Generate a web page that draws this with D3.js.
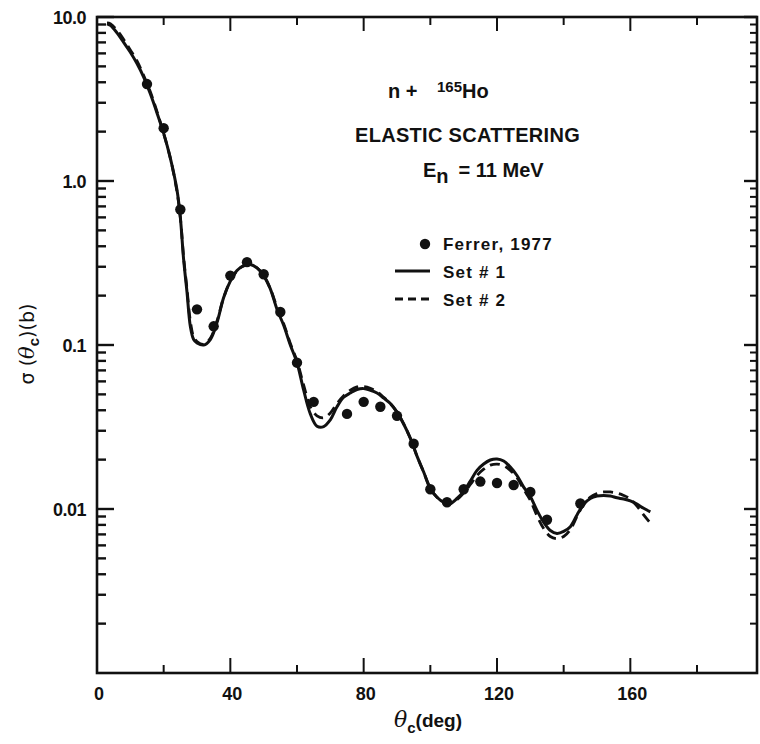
<!DOCTYPE html>
<html><head><meta charset="utf-8">
<script src="https://cdn.jsdelivr.net/npm/d3@7"></script>
<style>
body{margin:0;background:#fff}
svg{display:block}
text{font-family:"Liberation Sans",Arial,sans-serif;font-weight:bold;fill:#111}
</style>
</head><body><svg id="c" width="760" height="744"></svg>
<script>
// ---- data ----
const ferrerAngles = [15,20,25,30,35,40,45,50,55,60,65,75,80,85,90,95,100,105,110,115,120,125,130,135,145];
const ferrerValues = [3.9,2.1,0.67,0.165,0.13,0.265,0.32,0.27,0.159,0.078,0.045,0.038,0.045,0.042,0.037,0.025,0.0132,0.011,0.0132,0.0147,0.0144,0.014,0.0127,0.0086,0.0108];

const curveAngles = [3,4,6,8,10,12,14,16,18,20,22,24,25,26,27,28,29,30,32,34,36,38,40,42,44,46,48,50,52,54,56,58,60,62,64,66,68,70,72,74,76,78,80,82,84,86,88,90,92,94,96,98,100,102,104,106,108,110,112,114,116,118,120,122,124,126,128,130,132,134,136,138,140,142,144,146,148,150,152,154,156,158,160,162,164,166];
const set1Values = [9.1,8.9,8.0,7.0,6.1,5.2,4.3,3.4,2.6,1.95,1.38,0.88,0.6,0.33,0.21,0.13,0.108,0.103,0.1,0.108,0.137,0.195,0.245,0.285,0.305,0.31,0.295,0.265,0.22,0.165,0.132,0.1,0.078,0.053,0.038,0.032,0.0318,0.035,0.042,0.048,0.051,0.0535,0.0542,0.053,0.051,0.0475,0.044,0.039,0.033,0.027,0.021,0.0168,0.0133,0.0118,0.011,0.0108,0.0116,0.0128,0.0148,0.0172,0.0188,0.0199,0.0202,0.0196,0.018,0.016,0.0136,0.0119,0.0098,0.0083,0.0074,0.0071,0.0073,0.0078,0.0092,0.0107,0.0116,0.012,0.0121,0.012,0.0117,0.0115,0.0112,0.0107,0.0101,0.0096];
const set2Values = [9.2,9.1,8.3,7.3,6.3,5.4,4.4,3.5,2.65,1.95,1.38,0.86,0.6,0.34,0.22,0.14,0.112,0.105,0.101,0.11,0.14,0.195,0.245,0.283,0.303,0.308,0.295,0.265,0.22,0.17,0.135,0.102,0.08,0.057,0.042,0.037,0.036,0.0385,0.044,0.049,0.053,0.0555,0.0558,0.0545,0.052,0.048,0.044,0.039,0.033,0.027,0.021,0.0168,0.0134,0.0118,0.011,0.0108,0.0114,0.0125,0.0141,0.016,0.0175,0.0185,0.0188,0.0184,0.0172,0.0155,0.0132,0.0113,0.0091,0.0076,0.0068,0.0066,0.0068,0.0075,0.009,0.0107,0.0118,0.0124,0.0127,0.0127,0.0125,0.0121,0.0115,0.0104,0.0092,0.0082];

const xMajorTicks = [0,40,80,120,160];
const xMinorTicks = [20,60,100,140,180];
const xTickLabels = ["0","40","80","120","160"];
const yMajorTicks = [10,1,0.1,0.01];
const yTickLabels = ["10.0","1.0","0.1","0.01"];
const legendLabels = ["Ferrer, 1977","Set # 1","Set # 2"];

// ---- scales ----
const svg = d3.select("#c");
const x = d3.scaleLinear().domain([0,198]).range([97,757]);
const y = d3.scaleLog().domain([0.001,10]).range([673,17]);
const ink = "#111";

// frame
svg.append("rect").attr("x",x(0)).attr("y",y(10)).attr("width",x(198)-x(0)).attr("height",y(0.001)-y(10))
  .attr("fill","none").attr("stroke",ink).attr("stroke-width",2.6);

// y ticks (minor for each decade)
const yMinor = [];
[0.001,0.01,0.1,1].forEach(d=>{for(let k=2;k<=9;k++) yMinor.push(d*k);});
const g = svg.append("g").attr("stroke",ink).attr("stroke-width",2.4);
yMinor.forEach(v=>{
  g.append("line").attr("x1",x(0)).attr("x2",x(0)+9).attr("y1",y(v)).attr("y2",y(v));
  g.append("line").attr("x1",x(198)).attr("x2",x(198)-7).attr("y1",y(v)).attr("y2",y(v)).attr("stroke-width",2);
});
yMajorTicks.forEach(v=>{
  g.append("line").attr("x1",x(0)).attr("x2",x(0)+17).attr("y1",y(v)).attr("y2",y(v));
  g.append("line").attr("x1",x(198)).attr("x2",x(198)-13).attr("y1",y(v)).attr("y2",y(v));
});
// x ticks
xMajorTicks.forEach(v=>{
  g.append("line").attr("x1",x(v)).attr("x2",x(v)).attr("y1",y(0.001)).attr("y2",y(0.001)-15).attr("stroke-width",2);
  g.append("line").attr("x1",x(v)).attr("x2",x(v)).attr("y1",y(10)).attr("y2",y(10)+14).attr("stroke-width",2);
});
xMinorTicks.forEach(v=>{
  g.append("line").attr("x1",x(v)).attr("x2",x(v)).attr("y1",y(0.001)).attr("y2",y(0.001)-8).attr("stroke-width",2);
  g.append("line").attr("x1",x(v)).attr("x2",x(v)).attr("y1",y(10)).attr("y2",y(10)+8).attr("stroke-width",2);
});

// tick labels
svg.selectAll(".yl").data(yMajorTicks).enter().append("text")
  .attr("x",x(0)-11).attr("y",d=>y(d)+7).attr("text-anchor","end").attr("font-size",18)
  .attr("letter-spacing",-0.5).text((d,i)=>yTickLabels[i]);
svg.selectAll(".xl").data(xMajorTicks).enter().append("text")
  .attr("x",d=>x(d)+2).attr("y",y(0.001)+27).attr("text-anchor","middle").attr("font-size",18)
  .text((d,i)=>xTickLabels[i]);

// axis titles
const xt = svg.append("text").attr("x",428).attr("y",727).attr("text-anchor","middle").attr("font-size",19);
xt.append("tspan").attr("font-style","italic").attr("font-family","DejaVu Serif").attr("font-weight","normal").attr("font-size",22).text("θ");
xt.append("tspan").attr("dy",6).attr("font-size",15).text("c");
xt.append("tspan").attr("dy",-6).text("(deg)");

const yt = svg.append("text").attr("transform","translate(34,344) rotate(-90)").attr("text-anchor","middle").attr("font-size",19);
yt.append("tspan").attr("font-family","DejaVu Sans").attr("font-weight","normal").text("σ (");
yt.append("tspan").attr("font-style","italic").attr("font-family","DejaVu Serif").attr("font-weight","normal").attr("font-size",21).text("θ");
yt.append("tspan").attr("dy",5).attr("font-size",15).text("c");
yt.append("tspan").attr("dy",-5).attr("font-family","DejaVu Sans").attr("font-weight","normal").text(")(b)");

// curves
const line = d3.line().x(d=>x(d[0])).y(d=>y(d[1])).curve(d3.curveCatmullRom.alpha(0.5));
svg.append("path").datum(curveAngles.map((a,i)=>[a,set2Values[i]]))
  .attr("d",line).attr("fill","none").attr("stroke",ink).attr("stroke-width",2.8).attr("stroke-dasharray","10,6");
svg.append("path").datum(curveAngles.map((a,i)=>[a,set1Values[i]]))
  .attr("d",line).attr("fill","none").attr("stroke",ink).attr("stroke-width",3);

// points
svg.selectAll(".pt").data(ferrerAngles.map((a,i)=>[a,ferrerValues[i]])).enter().append("circle")
  .attr("cx",d=>x(d[0])).attr("cy",d=>y(d[1])).attr("r",5.2).attr("fill",ink);

// annotations
const t1 = svg.append("text").attr("x",388).attr("y",98).attr("font-size",20);
t1.append("tspan").text("n + ");
t1.append("tspan").attr("dx",14).attr("dy",-6).attr("font-size",15).text("165");
t1.append("tspan").attr("dy",6).text("Ho");
svg.append("text").attr("x",355).attr("y",142).attr("font-size",20).attr("letter-spacing",0.3).text("ELASTIC  SCATTERING");
const t3 = svg.append("text").attr("x",423).attr("y",177).attr("font-size",20);
t3.append("tspan").text("E");
t3.append("tspan").attr("dy",6).text("n");
t3.append("tspan").attr("dy",-6).attr("dx",10).text("= 11 MeV");

// legend
svg.append("circle").attr("cx",425).attr("cy",244).attr("r",5.2).attr("fill",ink);
svg.append("line").attr("x1",395).attr("x2",430).attr("y1",271).attr("y2",271).attr("stroke",ink).attr("stroke-width",3);
svg.append("line").attr("x1",395).attr("x2",431).attr("y1",299).attr("y2",299).attr("stroke",ink).attr("stroke-width",3).attr("stroke-dasharray","8,5");
svg.selectAll(".lg").data(legendLabels).enter().append("text")
  .attr("x",443).attr("y",(d,i)=>250+i*28).attr("font-size",17).attr("letter-spacing",1.2).text(d=>d);
</script>
</body></html>
